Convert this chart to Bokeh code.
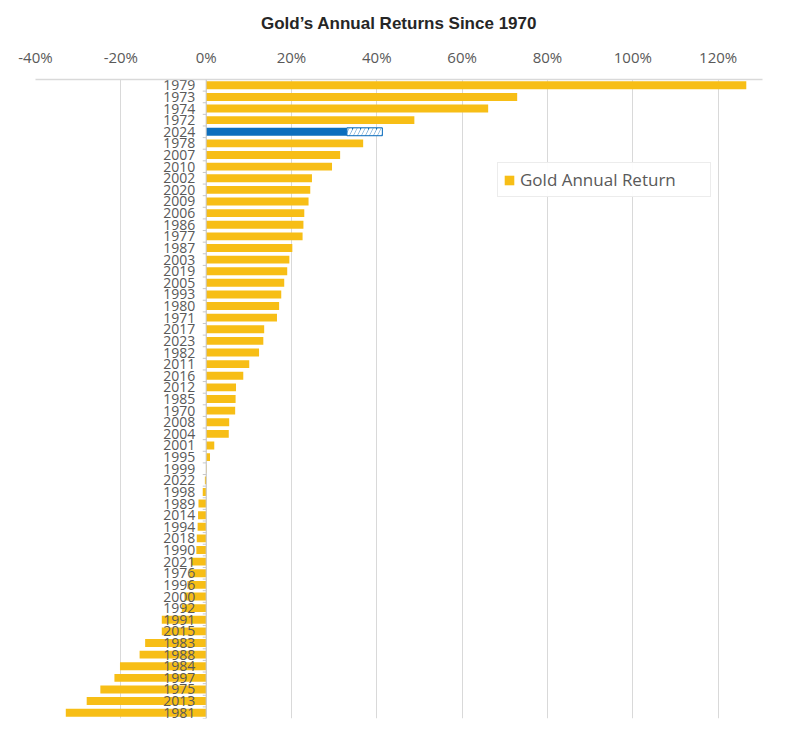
from bokeh.plotting import figure
from bokeh.models import ColumnDataSource, FactorRange, FixedTicker, PrintfTickFormatter, Span, Legend, LegendItem
from bokeh.core.properties import value
from bokeh.embed import file_html
from bokeh.resources import INLINE

# ---- data (top to bottom, as in the chart) ----
years = ["1979", "1973", "1974", "1972", "2024", "1978", "2007", "2010", "2002", "2020",
         "2009", "2006", "1986", "1977", "1987", "2003", "2019", "2005", "1993", "1980",
         "1971", "2017", "2023", "1982", "2011", "2016", "2012", "1985", "1970", "2008",
         "2004", "2001", "1995", "1999", "2022", "1998", "1989", "2014", "1994", "2018",
         "1990", "2021", "1976", "1996", "2000", "1992", "1991", "2015", "1983", "1988",
         "1984", "1997", "1975", "2013", "1981"]
returns = [126.6, 72.9, 66.1, 48.8, 33.0, 36.8, 31.4, 29.5, 24.8, 24.4,
           24.0, 23.0, 22.8, 22.6, 20.2, 19.5, 19.0, 18.3, 17.6, 17.1,
           16.6, 13.6, 13.4, 12.4, 10.1, 8.7, 7.0, 6.9, 6.8, 5.4,
           5.3, 1.9, 0.9, 0.1, -0.3, -0.8, -1.8, -1.9, -2.0, -2.2,
           -2.3, -3.5, -3.9, -4.4, -5.1, -5.7, -10.4, -10.4, -14.3, -15.6,
           -20.2, -21.5, -24.8, -28.0, -32.9]
highlight_year = "2024"
highlight_ytd = 33.0
highlight_ext = 41.3
tick_values = [-40, -20, 0, 20, 40, 60, 80, 100, 120]

GOLD = "#F7BE16"
BLUE = "#0D6EBD"
GRID = "#D9D9D9"
TXT = "#595959"

gold_years = [y for y in years if y != highlight_year]
gold_vals = [v for y, v in zip(years, returns) if y != highlight_year]
src_gold = ColumnDataSource(dict(y=gold_years, right=gold_vals, left=[0] * len(gold_years)))

factors = list(reversed(years))

p = figure(width=792, height=740, x_range=(-40, 130.4), y_range=FactorRange(*factors),
           x_axis_location="above", y_axis_location=None,
           output_backend="svg", toolbar_location=None,
           min_border_left=35, min_border_right=30, min_border_bottom=22, min_border_top=79,
           title="Gold\u2019s Annual Returns Since 1970")

p.title.align = "center"
p.title.text_font = "Liberation Sans"
p.title.text_font_size = "17px"
p.title.text_font_style = "bold"
p.title.text_color = "#262626"
p.title.standoff = 21

p.outline_line_color = None
p.ygrid.grid_line_color = None
p.xgrid.grid_line_color = GRID
p.xgrid.ticker = FixedTicker(ticks=tick_values)

ax = p.xaxis[0]
ax.ticker = FixedTicker(ticks=tick_values)
ax.formatter = PrintfTickFormatter(format="%d%%")
ax.axis_line_color = GRID
ax.axis_line_width = 1.5
ax.major_tick_line_color = None
ax.minor_tick_line_color = None
ax.major_label_text_font = "Open Sans"
ax.major_label_text_font_size = "15px"
ax.major_label_text_color = TXT
ax.major_label_standoff = 7

# zero axis line
p.add_layout(Span(location=0, dimension="height", line_color="#C8C8C8", line_width=1))
# small category tick marks at the zero axis
p.segment(x0=[0] * len(factors), x1=[-0.8] * len(factors),
          y0=[(f, -0.5) for f in factors], y1=[(f, -0.5) for f in factors],
          line_color="#C8C8C8", line_width=1)

r_gold = p.hbar(y="y", left="left", right="right", height=0.68, source=src_gold,
                fill_color=GOLD, line_color=None)

# highlighted year: solid part and hatched extension
p.hbar(y=[highlight_year], left=[0], right=[highlight_ytd], height=0.68,
       fill_color=BLUE, line_color=None)
p.hbar(y=[highlight_year], left=[highlight_ytd], right=[highlight_ext], height=0.68,
       fill_color=BLUE, line_color=BLUE, line_width=1,
       hatch_pattern="/", hatch_color="white", hatch_weight=3.2, hatch_scale=8)

# year labels next to the zero axis
p.text(x=[0] * len(years), y=years, text=years, x_offset=-11,
       text_align="right", text_baseline="middle",
       text_font=value("Open Sans"), text_font_size="14px", text_color=TXT)

legend = Legend(items=[LegendItem(label="Gold Annual Return", renderers=[r_gold])],
                location=(462, 521), orientation="vertical")
legend.border_line_color = GRID
legend.border_line_width = 1
legend.background_fill_color = "white"
legend.label_text_font = "Open Sans"
legend.label_text_font_size = "17px"
legend.label_text_color = TXT
legend.glyph_width = 12
legend.glyph_height = 12
legend.padding = 5
legend.margin = 0
legend.label_standoff = 5
legend.spacing = 0
legend.label_height = 14
legend.label_width = 185
p.add_layout(legend, "center")

open("out.html", "w").write(file_html(p, INLINE))
